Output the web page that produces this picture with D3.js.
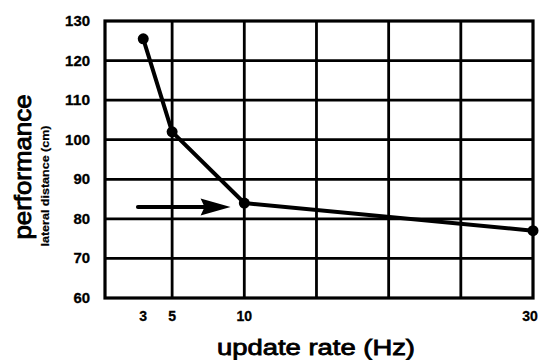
<!DOCTYPE html>
<html><head><meta charset="utf-8">
<script src="https://cdn.jsdelivr.net/npm/d3@7"></script>
<style>html,body{margin:0;padding:0;background:#fff;}svg{display:block;}</style>
</head><body>
<script>
const updateRates = [3, 5, 10, 30];
const performance = [125.5, 102, 84, 77];
const xTickLabels = [3, 5, 10, 30];
const yTickLabels = [60, 70, 80, 90, 100, 110, 120, 130];
const xGrid = [5, 10, 15, 20, 25];
const yGrid = [70, 80, 90, 100, 110, 120];
const arrowFrom = [2.63, 83];
const arrowTo = [9.05, 83];

const W = 539, H = 360;
const svg = d3.select("body").append("svg").attr("width", W).attr("height", H);
const x = d3.scaleLinear().domain([0.35, 30]).range([105, 533]);
const y = d3.scaleLinear().domain([60, 130]).range([298, 21]);
const font = "'Liberation Sans', Arial, Helvetica, sans-serif";

// grid
svg.append("g").selectAll("line").data(xGrid).join("line")
  .attr("x1", d => x(d)).attr("x2", d => x(d)).attr("y1", y(130)).attr("y2", y(60))
  .attr("stroke", "#000").attr("stroke-width", 2.8);
svg.append("g").selectAll("line").data(yGrid).join("line")
  .attr("x1", x(0.35)).attr("x2", x(30)).attr("y1", d => y(d)).attr("y2", d => y(d))
  .attr("stroke", "#000").attr("stroke-width", 2.8);
svg.append("rect").attr("x", x(0.35)).attr("y", y(130))
  .attr("width", x(30) - x(0.35)).attr("height", y(60) - y(130))
  .attr("fill", "none").attr("stroke", "#000").attr("stroke-width", 3.2);

// y tick labels
svg.append("g").selectAll("text").data(yTickLabels).join("text")
  .attr("x", 90).attr("y", d => y(d)).attr("dy", "0.36em")
  .attr("text-anchor", "end").attr("font-family", font).attr("font-weight", "bold")
  .attr("font-size", 14).attr("stroke", "#000").attr("stroke-width", 0.3)
  .attr("textLength", d => String(d).length * 8.3).attr("lengthAdjust", "spacingAndGlyphs")
  .text(d => d);
// x tick labels (keep the last one inside the frame)
svg.append("g").selectAll("text").data(xTickLabels).join("text")
  .attr("x", d => Math.min(x(d), W - 9)).attr("y", 321)
  .attr("text-anchor", "middle").attr("font-family", font).attr("font-weight", "bold")
  .attr("font-size", 14).attr("stroke", "#000").attr("stroke-width", 0.3)
  .text(d => d);

// data line
const pts = updateRates.map((r, i) => [r, performance[i]]);
svg.append("path").datum(pts)
  .attr("d", d3.line().x(d => x(d[0])).y(d => y(d[1])))
  .attr("fill", "none").attr("stroke", "#000").attr("stroke-width", 4)
  .attr("stroke-linejoin", "round");
svg.append("g").selectAll("circle").data(pts).join("circle")
  .attr("cx", d => x(d[0])).attr("cy", d => y(d[1])).attr("r", 5.5).attr("fill", "#000");

// arrow
const ax1 = x(arrowFrom[0]), ay = y(arrowFrom[1]), ax2 = x(arrowTo[0]);
svg.append("line").attr("x1", ax1).attr("x2", ax2 - 20).attr("y1", ay).attr("y2", ay)
  .attr("stroke", "#000").attr("stroke-width", 4).attr("stroke-linecap", "round");
svg.append("path")
  .attr("d", `M${ax2},${ay} L${ax2 - 30},${ay - 8.5} L${ax2 - 26},${ay} L${ax2 - 30},${ay + 8.5} Z`)
  .attr("fill", "#000");

// axis titles
svg.append("text").attr("x", 217).attr("y", 355)
  .attr("font-family", font).attr("font-size", 22)
  .attr("stroke", "#000").attr("stroke-width", 0.8)
  .attr("textLength", 198).attr("lengthAdjust", "spacingAndGlyphs")
  .text("update rate (Hz)");
svg.append("text").attr("transform", "translate(31,167) rotate(-90)")
  .attr("text-anchor", "middle")
  .attr("font-family", font).attr("font-size", 24)
  .attr("stroke", "#000").attr("stroke-width", 0.9)
  .attr("textLength", 145).attr("lengthAdjust", "spacingAndGlyphs")
  .text("performance");
svg.append("text").attr("transform", "translate(49,186) rotate(-90)")
  .attr("text-anchor", "middle")
  .attr("font-family", font).attr("font-size", 11).attr("font-weight", "bold")
  .attr("stroke", "#000").attr("stroke-width", 0.2)
  .attr("textLength", 121).attr("lengthAdjust", "spacingAndGlyphs")
  .text("lateral distance (cm)");
</script>
</body></html>
